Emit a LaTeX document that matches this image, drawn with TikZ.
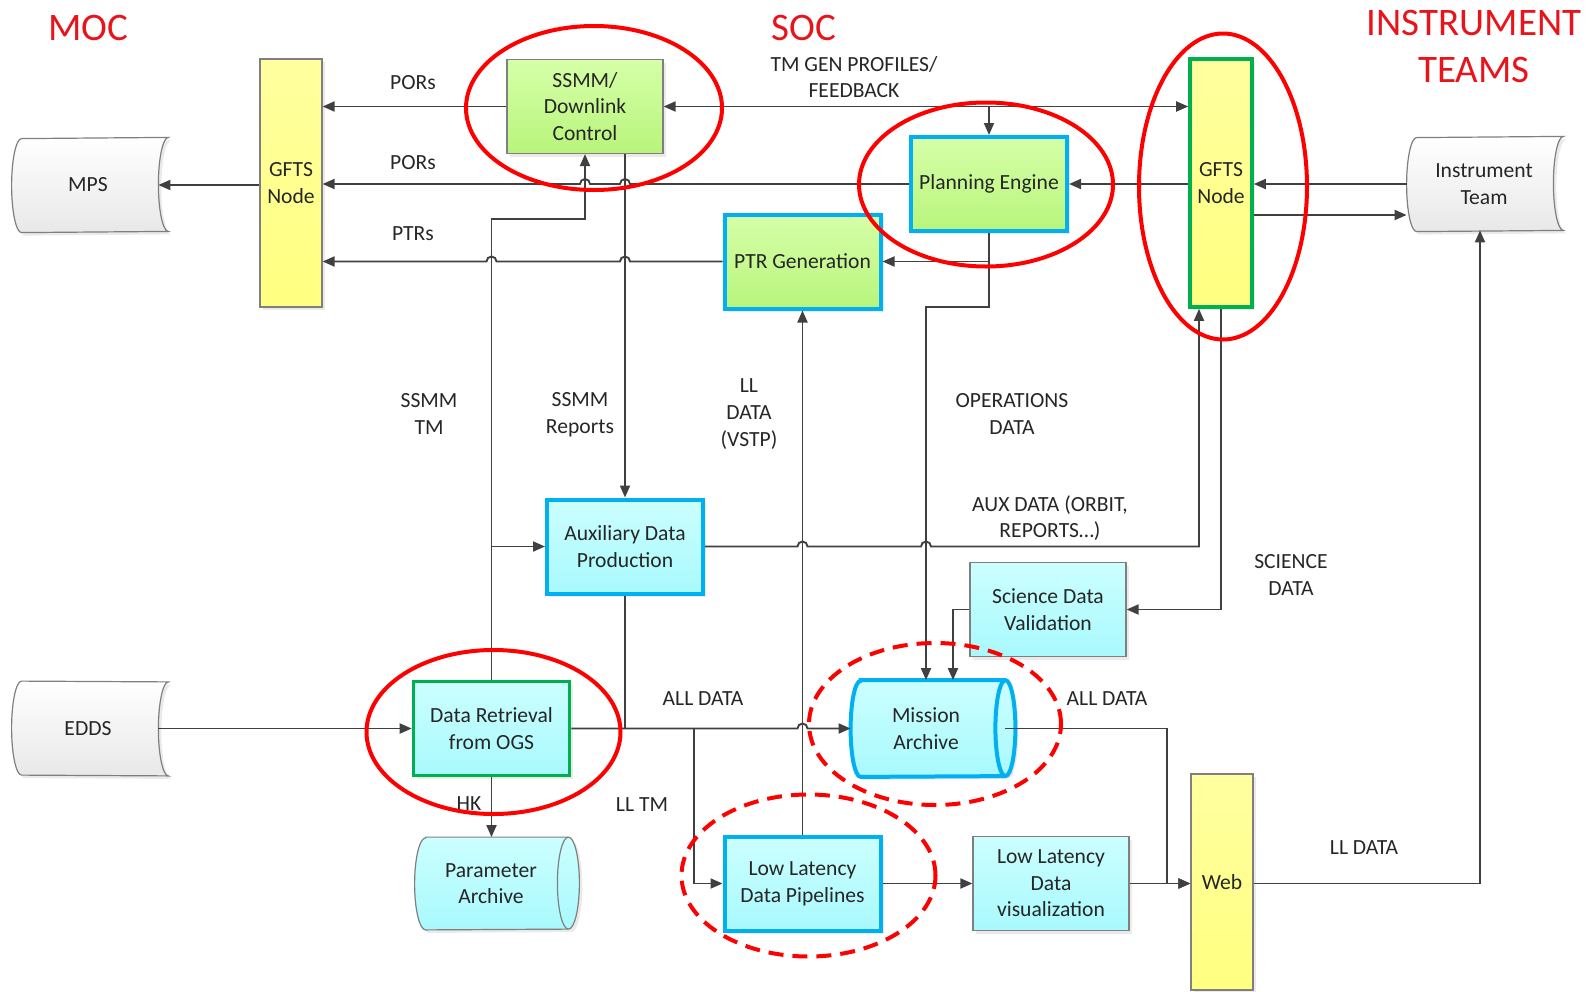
\documentclass[tikz,border=0pt]{standalone}
\usepackage{fontspec}
\setmainfont{Carlito}
\usepackage{tikz}
\usetikzlibrary{arrows.meta,positioning,shadows,backgrounds}

\definecolor{greentop}{HTML}{D6FFA8}
\definecolor{greenbot}{HTML}{B8F57C}
\definecolor{cyantop}{HTML}{CCFFFF}
\definecolor{cyanbot}{HTML}{A8F9FD}
\definecolor{yellowtop}{HTML}{FFFFA0}
\definecolor{yellowbot}{HTML}{FFFF80}
\definecolor{edgeblue}{HTML}{00B0F0}
\definecolor{edgegreen}{HTML}{00B050}
\definecolor{edgegray}{HTML}{7F7F7F}
\definecolor{wiregray}{HTML}{404040}
\definecolor{ringred}{HTML}{FF0000}
\definecolor{titlered}{HTML}{E8141B}
\definecolor{txt}{HTML}{262626}

\begin{document}
\begin{tikzpicture}[x=0.5pt, y=-0.5pt,
  base/.style={align=center, inner sep=1pt, text=txt, font=\fontsize{10.8}{13.3}\selectfont},
  boxshadow/.style={drop shadow={shadow xshift=1.5pt, shadow yshift=-1.5pt, fill=black!16}},
  stdbox/.style={minimum width=78pt, minimum height=47pt},
  greenbox/.style={base, boxshadow, draw=edgegray, line width=0.6pt, top color=greentop, bottom color=greenbot},
  cyanbox/.style={base, boxshadow, draw=edgegray, line width=0.6pt, top color=cyantop, bottom color=cyanbot},
  gfts/.style={base, boxshadow, draw=edgegray, line width=0.6pt, top color=yellowtop, bottom color=yellowbot,
    minimum width=31pt, minimum height=124pt},
  blueedge/.style={draw=edgeblue, line width=2pt},
  greenedge/.style={draw=edgegreen, line width=1.8pt},
  storeline/.style={boxshadow, draw=edgegray, line width=0.6pt, top color=white, bottom color=black!9},
  drum/.style={boxshadow, draw=edgegray, line width=0.6pt, top color=cyantop, bottom color=cyanbot},
  lbl/.style={base},
  title/.style={align=center, text=titlered, font=\fontsize{19.5}{23.5}\selectfont},
  arr/.style={draw=wiregray, line width=0.95pt, -{Triangle[length=6pt,width=5pt]}},
  twoway/.style={arr, {Triangle[length=6pt,width=5pt]}-{Triangle[length=6pt,width=5pt]}},
  plain/.style={draw=wiregray, line width=0.95pt},
  ring/.style={draw=ringred, line width=2pt},
  dashring/.style={ring, dash pattern=on 7.5pt off 4.5pt}
]
\useasboundingbox (0,0) rectangle (1596,991);

% headings
\node[title] (moc) at (88,28) {MOC};
\node[title] (soc) at (804,28) {SOC};
\node[title] (teams) at (1474,46) {INSTRUMENT\\TEAMS};

% MOC side
\node[base, minimum width=73pt, minimum height=46pt] (mps) at (85,185) {\hspace*{3pt}MPS};
\node[base, minimum width=73pt, minimum height=47pt] (edds) at (85,728.5) {\hspace*{3pt}EDDS};
\node[gfts] (gftsL) at (291,183) {GFTS\\Node};

% SOC boxes
\node[greenbox, stdbox] (ssmm) at (585,106.5) {SSMM/\\Downlink\\Control};
\node[greenbox, blueedge, stdbox] (pe) at (989,184) {Planning Engine};
\node[greenbox, blueedge, stdbox] (ptr) at (802.5,261.5) {PTR Generation};
\node[cyanbox, blueedge, stdbox] (aux) at (625,546.5) {Auxiliary Data\\Production};
\node[cyanbox, stdbox] (sdv) at (1048,609.5) {Science Data\\Validation};
\node[cyanbox, greenedge, stdbox] (dr) at (491.5,728.5) {Data Retrieval\\from OGS};
\node[base, minimum width=72pt, minimum height=48pt] (ma) at (933,728.5) {Mission\hspace*{7pt}\\Archive\hspace*{7pt}};
\node[base, minimum width=71pt, minimum height=46pt] (pa) at (497,883.5) {Parameter\hspace*{6pt}\\Archive\hspace*{6pt}};
\node[cyanbox, blueedge, stdbox] (lldp) at (802.5,883.5) {Low Latency\\Data Pipelines};
\node[cyanbox, stdbox] (llv) at (1051,883.5) {Low Latency\\Data\\visualization};
\node[gfts, minimum height=108pt] (web) at (1222,882) {Web};

% instrument side
\node[gfts, greenedge] (gftsR) at (1221,183) {GFTS\\Node};
\node[base, minimum width=73pt, minimum height=46pt] (it) at (1480,184) {\hspace*{4pt}Instrument\\\hspace*{4pt}Team};

% outlines of the stored data and archive shapes
\begin{pgfonlayer}{background}
\foreach \s in {mps,edds,it}
  \draw[storeline] ([xshift=5pt]\s.north west) arc[start angle=90, end angle=270, x radius=5pt, y radius=23.5pt]
    -- ([xshift=5pt]\s.south east) arc[start angle=270, end angle=90, x radius=5pt, y radius=23.5pt] -- cycle;
\draw[drum, blueedge] (ma.north west) -- (ma.north east) arc[start angle=90, end angle=-90, x radius=5pt, y radius=24pt]
  -- (ma.south west) arc[start angle=270, end angle=90, x radius=5pt, y radius=24pt] -- cycle;
\draw[drum] (pa.north west) -- (pa.north east) arc[start angle=90, end angle=-90, x radius=5.5pt, y radius=23pt]
  -- (pa.south west) arc[start angle=270, end angle=90, x radius=5.5pt, y radius=23pt] -- cycle;
\end{pgfonlayer}
\draw[edgeblue, line width=2pt] (ma.north east) arc[start angle=90, end angle=270, x radius=5pt, y radius=24pt];
\draw[edgegray, line width=0.6pt] (pa.north east) arc[start angle=90, end angle=270, x radius=5.5pt, y radius=23pt];

% labels
\node[lbl] (porsA) at (413,83) {PORs};
\node[lbl] (porsB) at (413,163) {PORs};
\node[lbl] (ptrs) at (413,234) {PTRs};
\node[lbl] (tmgen) at (854,77) {TM GEN PROFILES/\\FEEDBACK};
\node[lbl] (ssmmtm) at (429,414) {SSMM\\TM};
\node[lbl] (ssmmrep) at (580,415) {SSMM\\Reports};
\node[lbl] (lldataA) at (749,414) {LL\\DATA\\(VSTP)};
\node[lbl] (opsdata) at (1012,414) {OPERATIONS\\DATA};
\node[lbl] (auxdata) at (1050,518) {AUX DATA (ORBIT,\\REPORTS…)};
\node[lbl] (scidata) at (1291,575) {SCIENCE\\DATA};
\node[lbl] (alldataA) at (703,699) {ALL DATA};
\node[lbl] (alldataB) at (1107,699) {ALL DATA};
\node[lbl] (lltm) at (642,805) {LL TM};
\node[lbl] (hk) at (469,804) {HK};
\node[lbl] (lldataB) at (1364,848) {LL DATA};

% turning points
\coordinate (opsturn) at (926,307);
\coordinate (tmturn) at (585,219);
\coordinate (auxturn) at (1199,546.5);
\coordinate (lltap) at (694,728.5);
\coordinate (webturn) at (1167,883.5);

% planning flows
\draw[arr] (ssmm.west) -- (gftsL.east |- ssmm.west);
\draw[arr] (gftsL.west |- mps.east) -- (mps.east);
\draw[arr] (pe.west) -- (630,184) arc[start angle=0, end angle=180, radius=2.5pt]
  -- (590,184) arc[start angle=0, end angle=180, radius=2.5pt] -- (gftsL.east |- pe.west);
\draw[arr] (ptr.west) -- (630,261.5) arc[start angle=0, end angle=180, radius=2.5pt]
  -- (496.5,261.5) arc[start angle=0, end angle=180, radius=2.5pt] -- (gftsL.east |- ptr.west);
\draw[twoway] (ssmm.east) -- (gftsR.west |- ssmm.east);
\draw[arr] (pe.north |- ssmm.east) -- (pe.north);
\draw[arr] (gftsR.west |- pe.east) -- (pe.east);
\draw[arr] (pe.south) |- (ptr.east);
\draw[arr] (pe.south) |- (opsturn) -- (opsturn |- ma.north);
\draw[arr] (it.west) -- (gftsR.east |- it.west);
\draw[arr] ([yshift=-16pt]gftsR.east) -- ([yshift=-16pt]gftsR.east -| it.west);

% data flows
\draw[arr] (edds.east) -- (dr.west);
\draw[arr] (dr.north) |- (tmturn) -- (ssmm.south);
\draw[arr] (dr.north |- aux.west) -- (aux.west);
\draw[arr] (ssmm.south -| aux.north) -- (aux.north);
\draw[arr] (aux.east) -- (797.5,546.5) arc[start angle=180, end angle=0, radius=2.5pt]
  -- (921,546.5) arc[start angle=180, end angle=0, radius=2.5pt] -- (auxturn) -- (auxturn |- gftsR.south);
\draw[arr] (gftsR.south) |- (sdv.east);
\draw[arr] (sdv.west) -| ([xshift=10pt]ma.north);
\draw[plain] (aux.south) -- (aux.south |- dr.east);
\draw[arr] (dr.east) -- (797.5,728.5) arc[start angle=180, end angle=0, radius=2.5pt]
  -- ([xshift=-5pt]ma.west);
\draw[arr] (lltap) |- (lldp.west);
\draw[arr] (lldp.north) -- (ptr.south);
\draw[arr] (dr.south) -- (dr.south |- pa.north);
\draw[arr] (lldp.east) -- (llv.west);
\draw[arr] (llv.east) -- (llv.east -| web.west);
\draw[arr] (ma.east) -| (webturn) -- (web.west |- webturn);
\draw[arr] (web.east |- webturn) -| (it.south);

% highlights
\draw[ring] (594,108) ellipse [x radius=64pt, y radius=41pt];
\draw[ring] (986,184.5) ellipse [x radius=63.5pt, y radius=41pt];
\draw[ring] (1223,186.5) ellipse [x radius=42pt, y radius=76.5pt];
\draw[ring] (493.5,732) ellipse [x radius=63.5pt, y radius=41pt];
\draw[dashring] (935,724) ellipse [x radius=63pt, y radius=40.5pt];
\draw[dashring] (808.5,875.5) ellipse [x radius=63.5pt, y radius=40.5pt];
\end{tikzpicture}
\end{document}
